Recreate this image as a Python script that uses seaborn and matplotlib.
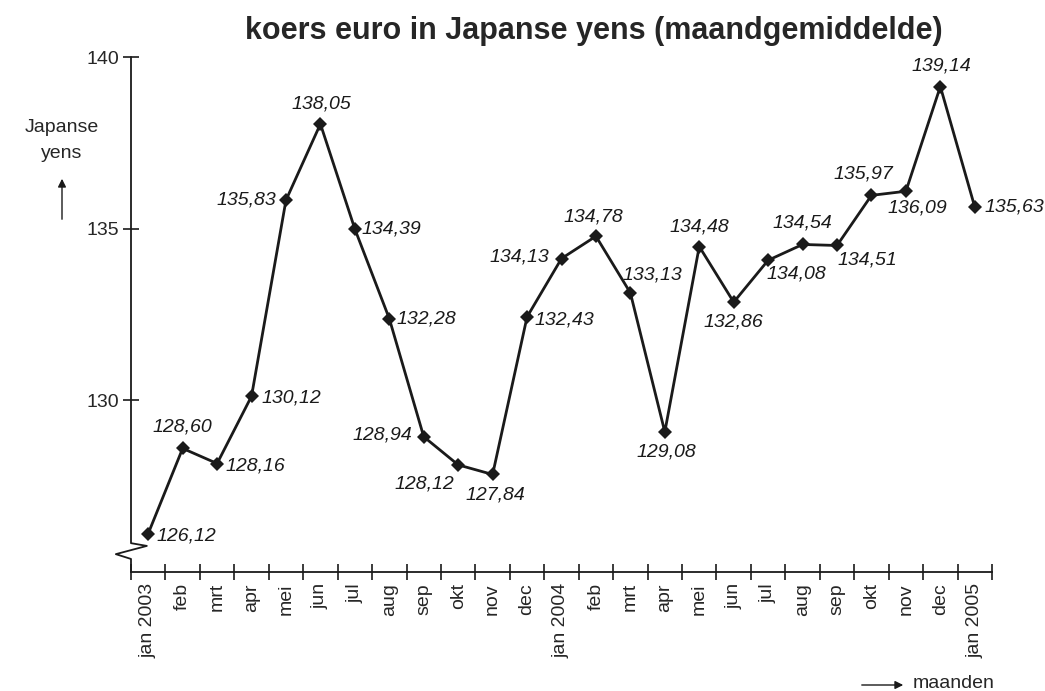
import numpy as np
import pandas as pd
import matplotlib
matplotlib.use('Agg')
import matplotlib.pyplot as plt
import seaborn as sns

# maanden jan 2003 - jan 2005
maanden = ['jan 2003', 'feb', 'mrt', 'apr', 'mei', 'jun', 'jul', 'aug', 'sep',
           'okt', 'nov', 'dec', 'jan 2004', 'feb', 'mrt', 'apr', 'mei', 'jun',
           'jul', 'aug', 'sep', 'okt', 'nov', 'dec', 'jan 2005']
# koers zoals getekend in de grafiek
koers = [126.12, 128.60, 128.16, 130.12, 135.83, 138.05, 134.99, 132.38, 128.94,
         128.12, 127.84, 132.43, 134.13, 134.78, 133.13, 129.08, 134.48, 132.86,
         134.08, 134.54, 134.51, 135.97, 136.09, 139.14, 135.63]
# labels zoals afgedrukt
labels = ['126,12', '128,60', '128,16', '130,12', '135,83', '138,05', '134,39',
          '132,28', '128,94', '128,12', '127,84', '132,43', '134,13', '134,78',
          '133,13', '129,08', '134,48', '132,86', '134,08', '134,54', '134,51',
          '135,97', '136,09', '139,14', '135,63']
# plaats van het label t.o.v. het punt (dx, dy in punten, ha, va)
plaats = [(6, -2, 'left', 'center'), (0, 9, 'center', 'bottom'), (6, -2, 'left', 'center'),
          (7, -1, 'left', 'center'), (-7, 0, 'right', 'center'), (1, 8, 'center', 'bottom'),
          (5, 0, 'left', 'center'), (5, 0, 'left', 'center'), (-8, 1, 'right', 'center'),
          (-3, -8, 'right', 'top'), (2, -9, 'center', 'top'), (5, -2, 'left', 'center'),
          (-9, 1, 'right', 'center'), (-2, 8, 'center', 'bottom'), (16, 7, 'center', 'bottom'),
          (1, -8, 'center', 'top'), (0, 8, 'center', 'bottom'), (0, -8, 'center', 'top'),
          (20, -4, 'center', 'top'), (0, 9, 'center', 'bottom'), (22, -4, 'center', 'top'),
          (-6, 9, 'center', 'bottom'), (8, -6, 'center', 'top'), (1, 9, 'center', 'bottom'),
          (7, 0, 'left', 'center')]

df = pd.DataFrame({'maand': np.arange(len(maanden)), 'koers': koers})

sns.set_style('ticks')
plt.rcParams['font.family'] = ['Liberation Sans', 'DejaVu Sans']

fig = plt.figure(figsize=(10.45, 6.91), dpi=100)
ax = fig.add_axes([131 / 1045, 1 - 572 / 691, (992 - 131) / 1045, (572 - 57) / 691])

sns.lineplot(data=df, x='maand', y='koers', ax=ax, color='#1a1a1a', linewidth=2.0,
             marker='D', markersize=7, markeredgewidth=0)

for i, (v, t, p) in enumerate(zip(koers, labels, plaats)):
    ax.annotate(t, (i, v), xytext=(p[0], p[1]), textcoords='offset points',
                ha=p[2], va=p[3], fontsize=14, style='italic', color='#1a1a1a')

ax.set_xlim(-0.5, 24.5)
ax.set_ylim(125, 140)
ax.set_yticks([130, 135, 140])
ax.set_yticklabels(['130', '135', '140'], fontsize=14)
ax.set_xticks(np.arange(-0.5, 25, 1))
ax.set_xticklabels([])
ax.set_xticks(np.arange(len(maanden)), minor=True)
ax.set_xticklabels(maanden, minor=True, rotation=90, fontsize=14)
ax.tick_params(axis='x', which='major', direction='inout', length=11, width=1.2, color='#1a1a1a')
ax.tick_params(axis='x', which='minor', length=0, pad=8)
ax.tick_params(axis='y', direction='inout', length=11, width=1.2, color='#1a1a1a', pad=3)
ax.set_xlabel('')
ax.set_ylabel('')

for s in ['top', 'right', 'left']:
    ax.spines[s].set_visible(False)
ax.spines['bottom'].set_linewidth(1.3)
ax.spines['bottom'].set_color('#1a1a1a')

# y-as met breuk
ax.plot([-0.5, -0.5, -0.04, -0.94, -0.5, -0.5], [140, 125.84, 125.76, 125.52, 125.38, 125],
        color='#1a1a1a', linewidth=1.3, clip_on=False)

fig.text(594 / 1045, 1 - 31 / 691, 'koers euro in Japanse yens (maandgemiddelde)',
         ha='center', va='center', fontsize=22, fontweight='bold')
fig.text(62 / 1045, 1 - 128 / 691, 'Japanse', ha='center', va='center', fontsize=14)
fig.text(62 / 1045, 1 - 154 / 691, 'yens', ha='center', va='center', fontsize=14)
fig.patches.append(matplotlib.patches.FancyArrowPatch(
    (62 / 1045, 1 - 222 / 691), (62 / 1045, 1 - 176 / 691), transform=fig.transFigure,
    arrowstyle='-|>', mutation_scale=12, color='#1a1a1a', linewidth=1))
fig.text(913 / 1045, 1 - 683 / 691, 'maanden', ha='left', va='center', fontsize=14)
fig.patches.append(matplotlib.patches.FancyArrowPatch(
    (859 / 1045, 1 - 685 / 691), (906 / 1045, 1 - 685 / 691), transform=fig.transFigure,
    arrowstyle='-|>', mutation_scale=12, color='#1a1a1a', linewidth=1))

fig.savefig('out.png', dpi=100)
